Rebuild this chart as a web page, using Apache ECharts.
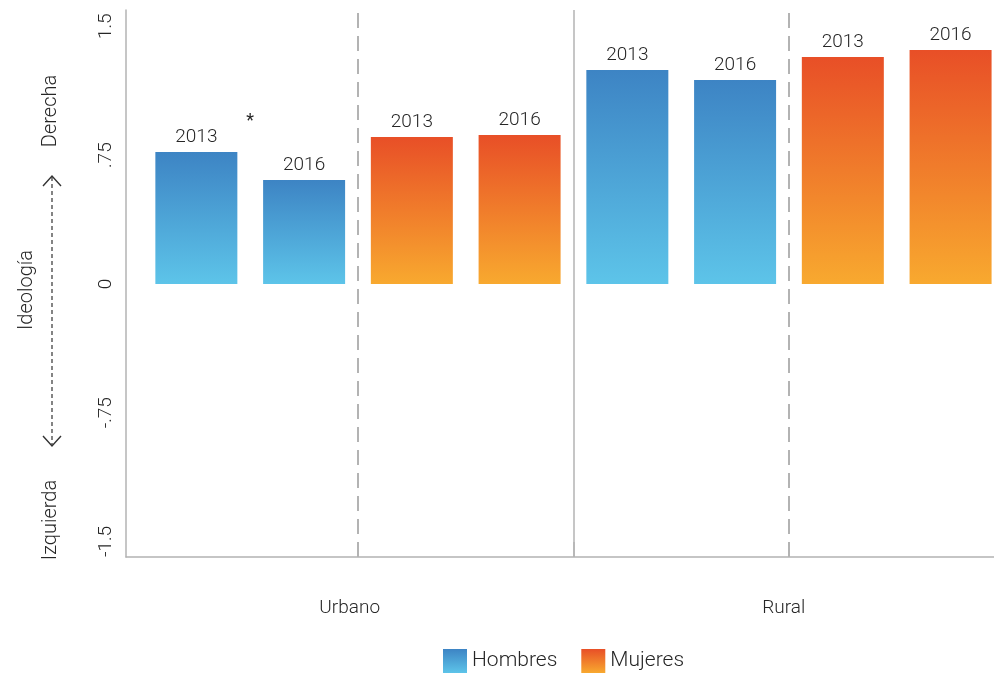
<!DOCTYPE html>
<html>
<head>
<meta charset="utf-8">
<script src="https://cdn.jsdelivr.net/npm/echarts@6/dist/echarts.min.js"></script>
<style>
  html, body { margin: 0; padding: 0; background: #fff; }
  #chart { width: 994px; height: 676px; }
</style>
</head>
<body>
<div id="chart"></div>
<script>
// Mean ideological self-placement by area, sex and survey year
const areas = ['Urbano', 'Rural'];
const sexes = ['Hombres', 'Mujeres'];
const years = ['2013', '2016'];
// values per area, in year order
const hombres = { Urbano: [0.768, 0.605], Rural: [1.246, 1.187] };
const mujeres = { Urbano: [0.856, 0.867], Rural: [1.321, 1.362] };
const yTicks = [-1.5, -0.75, 0, 0.75, 1.5];
// Urbano: 2013 vs 2016 difference among men is significant
const significance = [{ area: 'Urbano', sex: 'Hombres', mark: '*' }];

const FONT = 'Roboto';
const TEXT = '#262626';
const RULE = '#b3b3b3';

const blueGrad = new echarts.graphic.LinearGradient(0, 0, 0, 1, [
  { offset: 0, color: '#3d84c4' }, { offset: 1, color: '#5dc4e9' }
]);
const orangeGrad = new echarts.graphic.LinearGradient(0, 0, 0, 1, [
  { offset: 0, color: '#e84f27' }, { offset: 1, color: '#f8a92f' }
]);

// each bar occupies one slot; slots run area -> sex -> year
const slotsPerArea = sexes.length * years.length;
function slotCenter(area, sex, yi) {
  return areas.indexOf(area) * slotsPerArea + sexes.indexOf(sex) * years.length + yi + 0.5;
}
function seriesData(sex, table) {
  const out = [];
  areas.forEach(a => table[a].forEach((v, yi) => {
    out.push({ value: [slotCenter(a, sex, yi), v], year: years[yi] });
  }));
  return out;
}

const xMin = -0.153;
const xMax = 7.903;
const areaBreak = slotsPerArea;              // solid line between areas
const sexBreaks = areas.map((a, i) => i * slotsPerArea + years.length); // dashed
const areaLabelPos = [(xMin + areaBreak) / 2, (areaBreak + xMax) / 2];

const sigMarks = significance.map(s => {
  const yi0 = slotCenter(s.area, s.sex, 0), yi1 = slotCenter(s.area, s.sex, 1);
  const tbl = s.sex === 'Hombres' ? hombres : mujeres;
  return {
    coord: [(yi0 + yi1) / 2, Math.max.apply(null, tbl[s.area]) + 0.175],
    symbolSize: 1,
    itemStyle: { color: 'rgba(0,0,0,0)' },
    label: { show: true, formatter: s.mark, position: 'inside', color: TEXT,
             fontFamily: FONT, fontSize: 18, fontWeight: 400 }
  };
});

const barLabel = {
  show: true, position: 'top', distance: 5,
  formatter: p => p.data.year,
  color: TEXT, fontFamily: FONT, fontSize: 19, fontWeight: 300
};

const chart = echarts.init(document.getElementById('chart'), null, { renderer: 'canvas' });

const option = {
  animation: false,
  backgroundColor: '#fff',
  textStyle: { fontFamily: FONT },
  grid: { left: 126, right: 0, top: 10, bottom: 119 },
  legend: {
    data: sexes,
    icon: 'rect',
    left: 443, top: 649, padding: 0,
    itemWidth: 24, itemHeight: 24, itemGap: 24,
    textStyle: { color: TEXT, fontFamily: FONT, fontSize: 21, fontWeight: 300 }
  },
  xAxis: {
    type: 'value', min: xMin, max: xMax,
    splitLine: { show: false },
    axisLine: { show: true, onZero: false, lineStyle: { color: RULE, width: 1.5 } },
    axisTick: { show: true, inside: true, length: 15, customValues: [areaBreak].concat(sexBreaks),
                lineStyle: { color: RULE, width: 1.5 } },
    axisLabel: {
      customValues: areaLabelPos, margin: 42,
      formatter: v => areas[areaLabelPos.indexOf(v)] || '',
      color: TEXT, fontFamily: FONT, fontSize: 19, fontWeight: 300
    }
  },
  yAxis: {
    type: 'value', min: -1.59, max: 1.595,
    splitLine: { show: false },
    axisLine: { show: true, onZero: false, lineStyle: { color: RULE, width: 1.5 } },
    axisTick: { show: false, customValues: yTicks },
    axisLabel: {
      customValues: yTicks, rotate: 90, margin: 10,
      formatter: v => (v === 0 ? '0' : String(v).replace('0.', '.')),
      color: TEXT, fontFamily: FONT, fontSize: 19, fontWeight: 300
    }
  },
  series: [
    {
      name: 'Hombres', type: 'bar', barWidth: 82, barGap: '-100%',
      itemStyle: { color: blueGrad },
      label: barLabel,
      data: seriesData('Hombres', hombres),
      markPoint: { symbol: 'rect', data: sigMarks },
      markLine: {
        silent: true, symbol: 'none', label: { show: false },
        data: [
          { xAxis: areaBreak, lineStyle: { type: 'solid', color: RULE, width: 1.5 } }
        ].concat(sexBreaks.map(b => ({ xAxis: b, lineStyle: { type: [15, 8], color: RULE, width: 2 } })))
      }
    },
    {
      name: 'Mujeres', type: 'bar', barWidth: 82, barGap: '-100%',
      itemStyle: { color: orangeGrad },
      label: barLabel,
      data: seriesData('Mujeres', mujeres)
    }
  ],
  graphic: [
    // left-hand ideology scale: Izquierda <--- Ideología ---> Derecha
    { type: 'text', x: 51, y: 111, rotation: Math.PI / 2,
      style: { text: 'Derecha', fill: TEXT, font: '300 20px Roboto', align: 'center', verticalAlign: 'middle' } },
    { type: 'text', x: 51, y: 520, rotation: Math.PI / 2,
      style: { text: 'Izquierda', fill: TEXT, font: '300 20px Roboto', align: 'center', verticalAlign: 'middle' } },
    { type: 'text', x: 27, y: 290, rotation: Math.PI / 2,
      style: { text: 'Ideología', fill: TEXT, font: '300 20px Roboto', align: 'center', verticalAlign: 'middle' } },
    { type: 'line', shape: { x1: 52, y1: 177, x2: 52, y2: 445 },
      style: { stroke: '#333', lineWidth: 1.2, lineDash: [4, 3] } },
    { type: 'polyline', shape: { points: [[43, 186], [52, 176], [61, 186]] },
      style: { stroke: '#333', lineWidth: 1.4, fill: null } },
    { type: 'polyline', shape: { points: [[43, 436], [52, 446], [61, 436]] },
      style: { stroke: '#333', lineWidth: 1.4, fill: null } }
  ]
};

chart.setOption(option);
</script>
</body>
</html>
